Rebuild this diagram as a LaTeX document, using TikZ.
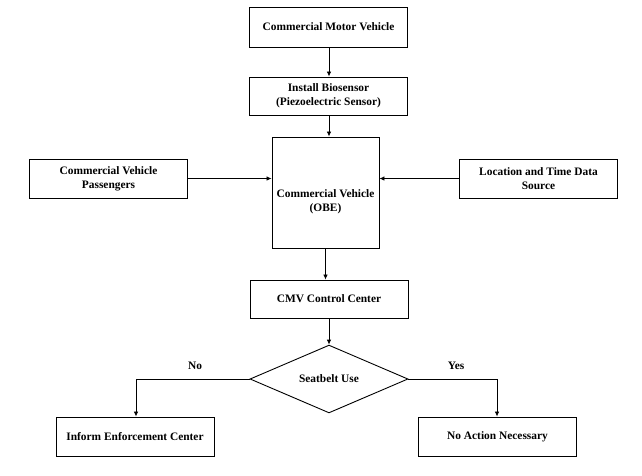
\documentclass[tikz,border=0pt]{standalone}
\usepackage{fontspec}
\setmainfont{Liberation Serif}
\usetikzlibrary{shapes.geometric,arrows.meta}
\begin{document}
\begin{tikzpicture}[x=1pt,y=-1pt,
  font=\fontsize{11.4}{14}\selectfont\bfseries,
  box/.style={draw, line width=0.9pt, rectangle, minimum width=158pt, minimum height=39pt, align=center, inner sep=0pt},
  arr/.style={draw, line width=0.8pt, -{Latex[length=5pt,width=4.5pt]}},
  lab/.style={inner sep=0pt}]
\useasboundingbox (0,0) rectangle (642,475);
\node[box, minimum height=40pt] (cmv) at (328.5,27) {Commercial Motor Vehicle};
\node[box, minimum height=38pt] (bio) at (328.5,96) {Install Biosensor\\(Piezoelectric Sensor)};
\node[box, minimum width=107pt, minimum height=111pt,
  label={[lab, yshift=-9.5pt, align=center]center:Commercial Vehicle\\(OBE)}] (obe) at (325.5,192.5) {};
\node[box] (pass) at (108.5,178.5) {Commercial Vehicle\\Passengers};
\node[box] (loc) at (538.5,178.5) {Location and Time Data\\Source};
\node[box, minimum height=38pt] (ctrl) at (329,299) {CMV Control Center};
\node[draw, line width=0.9pt, diamond, minimum width=158pt, minimum height=62pt, inner sep=0pt] (seat) at (329,379) {Seatbelt Use};
\node[box] (inform) at (135,436.5) {Inform Enforcement Center};
\node[box] (noact) at (497.5,436.5) {No Action Necessary};
\coordinate (nocorner) at (136,379);
\coordinate (yescorner) at (497,379);
\node[lab] (nolab) at (195,366) {No};
\node[lab] (yeslab) at (456,366) {Yes};
\draw[arr] (cmv.south -| 329,0) -- (bio.north -| 329,0);
\draw[arr] (bio.south -| 329,0) -- (obe.north -| 329,0);
\draw[arr] (pass.east) -- (pass.east -| obe.west);
\draw[arr] (loc.west) -- (loc.west -| obe.east);
\draw[arr] (obe.south) -- (obe.south |- ctrl.north);
\draw[arr] (ctrl.south -| seat.north) -- (seat.north);
\draw[arr] (seat.west) -- (nocorner) -- (nocorner |- inform.north);
\draw[arr] (seat.east) -- (yescorner) -- (yescorner |- noact.north);
\end{tikzpicture}
\end{document}
